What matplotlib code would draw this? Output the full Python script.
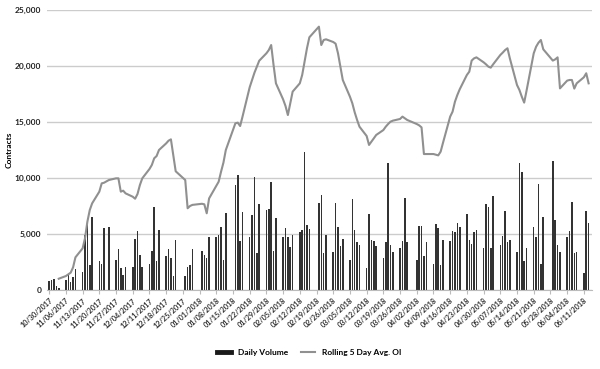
import numpy as np
import pandas as pd
import matplotlib
matplotlib.use("Agg")
import matplotlib.pyplot as plt
import matplotlib.dates as mdates
from matplotlib.lines import Line2D
from matplotlib.ticker import FuncFormatter, FixedLocator

plt.rcParams['font.family'] = ['Lato', 'DejaVu Sans']

# trading days (weekdays minus exchange holidays)
holidays = ["2017-11-23", "2017-12-25", "2018-01-01", "2018-01-15",
            "2018-02-19", "2018-03-30", "2018-05-28"]
days = pd.bdate_range("2017-10-30", "2018-06-13")
days = days[~days.isin(pd.to_datetime(holidays))]

daily_volume = [
    800, 900, 1000, 350, 200,
    900, 1400, 750, 1150, 1850,
    1600, 4900, 6100, 2200, 6500,
    2550, 2350, 5550, 5600,
    2700, 3650, 2000, 1350, 2100,
    2100, 4550, 5300, 3150, 2100,
    2300, 3500, 7450, 2550, 5400,
    3050, 3650, 2850, 1250, 4500,
    1250, 2100, 2200, 3650,
    3450, 3150, 2900, 4700,
    4700, 4900, 5650, 2700, 6850,
    9350, 10300, 4350, 7000,
    4700, 6700, 10050, 3300, 7700,
    7100, 7200, 9600, 3500, 6400,
    4700, 5500, 4700, 3800, 4900,
    5200, 5400, 12300, 5800, 5450,
    7800, 8500, 3300, 4900,
    3400, 7800, 5600, 3900, 4550,
    2700, 8150, 5400, 4250, 4000,
    2000, 6750, 4500, 4400, 3900,
    2850, 4250, 11350, 4000, 3400,
    3750, 4350, 8250, 4250,
    2700, 5750, 5750, 3050, 4250,
    2350, 5900, 5550, 2250, 4500,
    4350, 5300, 5200, 6000, 5650,
    6750, 4500, 4100, 5200, 5400,
    3750, 7700, 7450, 3750, 8400,
    4000, 4850, 7050, 4250, 4500,
    3400, 11350, 10500, 2550, 3750,
    5650, 4700, 9450, 2300, 6500,
    11500, 6250, 4000, 3400,
    4700, 5300, 7900, 3300, 3400,
    1500, 7050, 6000,
]

rolling_oi = [
    np.nan, np.nan, np.nan, np.nan, 1010,
    1250, 1400, 1550, 2020, 2920,
    3720, 4610, 6100, 7140, 7740,
    8780, 9520, 9580, 9820,
    9970, 9970, 8780, 8870, 8630,
    8330, 8150, 8570, 9370, 9970,
    10800, 11160, 11760, 11960, 12500,
    13090, 13330, 13450, 12000, 10600,
    9820, 7300, 7500, 7600,
    7700, 7650, 6850, 8180,
    9290, 9670, 10560, 11370, 12500,
    14880, 14940, 14640, 15480,
    18100, 18750, 19400, 19940, 20470,
    21130, 21420, 21870, 20090, 18450,
    17020, 16430, 15620, 16670, 17710,
    18450, 19200, 20390, 21580, 22560,
    23510, 21870, 22320, 22380,
    22140, 21990, 21130, 19940, 18750,
    17260, 16670, 15860, 15180, 14580,
    13750, 12950, 13240, 13540, 13840,
    14280, 14580, 14820, 15030, 15120,
    15270, 15480, 15330, 15180,
    14820, 14700, 14520, 12140, 12140,
    12140, 12080, 12020, 12350, 13150,
    15480, 15920, 16810, 17410, 17920,
    19200, 19490, 20480, 20680, 20770,
    20330, 20150, 19940, 19850, 20150,
    20980, 21190, 21420, 21580, 20680,
    18300, 17860, 17260, 16730, 17800,
    21130, 21720, 22080, 22320, 21490,
    20480, 20590, 20770, 18000,
    18690, 18750, 18750, 17980, 18450,
    18990, 19350, 18450,
]

week_ticks = pd.date_range("2017-10-30", "2018-06-11", freq="7D")

fig = plt.figure(figsize=(6, 3.69), dpi=100)
ax = fig.add_axes([0.078, 0.214, 0.909, 0.759])

ax.bar(days, daily_volume, width=0.65, color="#333333", zorder=2)
ax.plot(days, rolling_oi, color="#909090", lw=1.5, zorder=3)

ax.set_ylim(0, 25000)
ax.set_yticks(range(0, 25001, 5000))
ax.yaxis.set_major_formatter(FuncFormatter(lambda v, p: f"{int(v):,}"))
ax.grid(axis="y", color="#cccccc", lw=1, zorder=0)
ax.set_axisbelow(True)

ax.set_xlim(pd.Timestamp("2017-10-29"), pd.Timestamp("2018-06-14 12:00"))
ax.xaxis.set_major_locator(FixedLocator(mdates.date2num(week_ticks)))
ax.xaxis.set_major_formatter(mdates.DateFormatter("%m/%d/%Y"))
plt.setp(ax.get_xticklabels(), rotation=42, ha="right", rotation_mode="anchor",
         fontsize=5.2, fontweight="bold", color="#333333")
plt.setp(ax.get_yticklabels(), fontsize=6, fontweight="bold", color="#222222")
ax.tick_params(axis="x", length=3, color="#bbbbbb", pad=2)
ax.tick_params(axis="y", length=0, pad=4)

for s in ["top", "right", "left"]:
    ax.spines[s].set_visible(False)
ax.spines["bottom"].set_color("#bbbbbb")

ax.set_ylabel("Contracts", fontsize=6, fontweight="bold")
ax.yaxis.set_label_coords(-0.062, 0.5)

handles = [Line2D([], [], color="#1a1a1a", lw=3.5),
           Line2D([], [], color="#909090", lw=1.5)]
fig.legend(handles, ["Daily Volume", "Rolling 5 Day Avg. OI"], loc="center",
           bbox_to_anchor=(0.515, 0.046), ncol=2, frameon=False,
           prop={"size": 6, "weight": "bold"}, handlelength=1.7, columnspacing=1.6)

fig.savefig("out.png", dpi=100)
